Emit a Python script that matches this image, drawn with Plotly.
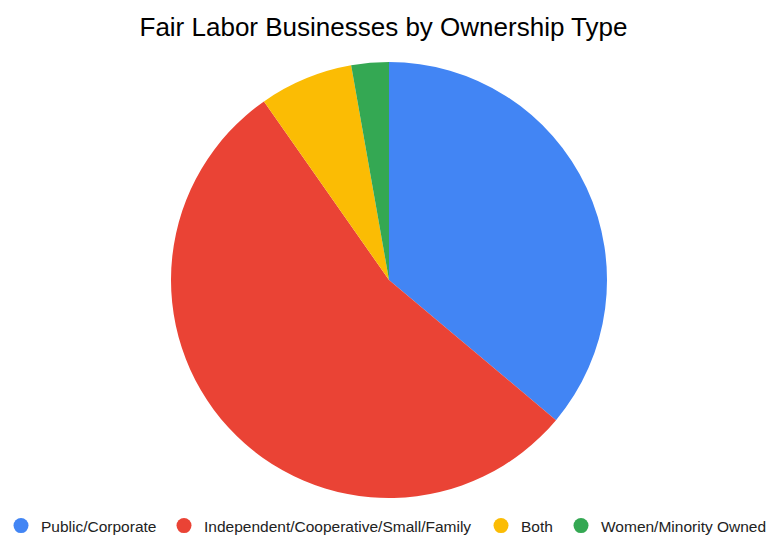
import plotly.graph_objects as go

categories = ["Public/Corporate", "Independent/Cooperative/Small/Family", "Both", "Women/Minority Owned"]
values = [26, 39, 5, 2]
colors = ["#4285F4", "#EA4335", "#FBBC04", "#34A853"]
title_text = "Fair Labor Businesses by Ownership Type"

W, H = 767, 535
legend_circle_px = [20, 183, 500, 580]  # layout positions of legend markers

fig = go.Figure()
fig.add_trace(go.Pie(
    labels=categories, values=values, sort=False, direction="clockwise", rotation=0,
    marker=dict(colors=colors, line=dict(width=0)),
    textinfo="none", hoverinfo="label+value+percent", showlegend=False,
    domain=dict(x=[171 / W, 607 / W], y=[1 - 498 / H, 1 - 62 / H]),
))
legend_font = dict(family="Liberation Sans, Arial, sans-serif", size=15.5, color="#222222")
layout_legends = {}
for i, (c, col) in enumerate(zip(categories, colors)):
    key = "legend" if i == 0 else f"legend{i + 1}"
    fig.add_trace(go.Scatter(x=[None], y=[None], mode="markers", name=c, legend=key,
                             marker=dict(symbol="circle", size=15, color=col)))
    layout_legends[key] = dict(orientation="h", x=(legend_circle_px[i] - 19) / W, xanchor="left",
                               y=-8 / H, yanchor="bottom", font=legend_font, itemwidth=30,
                               bgcolor="rgba(0,0,0,0)")

fig.update_layout(
    width=W, height=H, margin=dict(l=0, r=0, t=0, b=0, autoexpand=False),
    paper_bgcolor="white", plot_bgcolor="white",
    title=dict(text=title_text, x=0.5, xanchor="center", y=1 - 27 / H, yanchor="middle",
               font=dict(family="Liberation Sans, Arial, sans-serif", size=26, color="#000000")),
    xaxis=dict(visible=False), yaxis=dict(visible=False),
    **layout_legends,
)
fig.write_html(
    "out.html",
    config={"displayModeBar": False},
    post_script="document.body.style.margin='0';document.documentElement.style.overflow='hidden';",
)
